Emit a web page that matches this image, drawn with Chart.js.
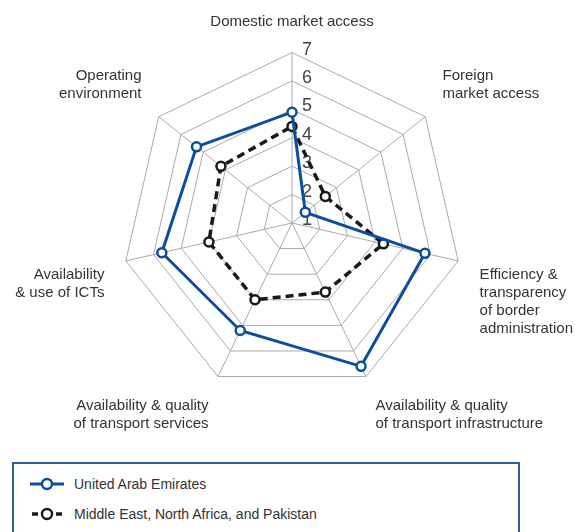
<!DOCTYPE html>
<html>
<head>
<meta charset="utf-8">
<script src="https://cdn.jsdelivr.net/npm/chart.js@4.4.1/dist/chart.umd.min.js"></script>
<style>
  body { margin: 0; background: #fff; font-family: 'Liberation Sans', sans-serif; }
  #wrap { position: relative; width: 575px; height: 532px; overflow: hidden; }
  #chartBox { position: absolute; left: 0; top: 0; width: 575px; height: 460px; }
  #legend { position: absolute; left: 12px; top: 462px; width: 508px; height: 90px;
            border: 2px solid #2b5f9e; box-sizing: border-box; }
  .item { position: absolute; left: 16px; height: 20px; display: flex; align-items: center;
          font-size: 14px; color: #333; }
  .item svg { margin-right: 10px; }
</style>
</head>
<body>
<div id="wrap">
  <div id="chartBox"><canvas id="grafico"></canvas></div>
  <div id="legend"></div>
</div>
<script>
// categorías (ejes del radar)
const categorias = [
  'Domestic market access',
  ['Foreign', 'market access'],
  ['Efficiency &', 'transparency', 'of border', 'administration'],
  ['Availability & quality', 'of transport infrastructure'],
  ['Availability & quality', 'of transport services'],
  ['Availability', '& use of ICTs'],
  ['Operating', 'environment']
];

// series
const nombreUAE = 'United Arab Emirates';
const valoresUAE = [4.9, 1.6, 5.8, 6.6, 5.2, 5.7, 5.3];

const nombreMENAP = 'Middle East, North Africa, and Pakistan';
const valoresMENAP = [4.4, 2.5, 4.3, 3.7, 4.0, 4.0, 4.2];

// marcas del eje radial
const etiquetasEje = ['1', '2', '3', '4', '5', '6', '7'];

const azul = '#0b4f9c';
const negro = '#1a1a1a';

// dibuja los números del eje a la derecha de la línea vertical
const numerosEje = {
  id: 'numerosEje',
  beforeDatasetsDraw(chart) {
    const r = chart.scales.r;
    const ctx = chart.ctx;
    ctx.save();
    ctx.font = '18px "Liberation Sans", sans-serif';
    ctx.fillStyle = '#444';
    ctx.textAlign = 'left';
    ctx.textBaseline = 'alphabetic';
    etiquetasEje.forEach(t => {
      const d = r.getDistanceFromCenterForValue(Number(t));
      ctx.fillText(t, r.xCenter + 10, r.yCenter - d + 2);
    });
    ctx.restore();
  }
};

const grafico = new Chart(document.getElementById('grafico'), {
  type: 'radar',
  data: {
    labels: categorias,
    datasets: [
      {
        label: nombreUAE,
        data: valoresUAE,
        borderColor: azul,
        borderWidth: 3,
        pointRadius: 4.5,
        pointBorderWidth: 2.5,
        pointBackgroundColor: '#fff',
        pointBorderColor: azul,
        fill: false
      },
      {
        label: nombreMENAP,
        data: valoresMENAP,
        borderColor: negro,
        borderWidth: 3.5,
        borderDash: [8, 5],
        pointRadius: 4.5,
        pointBorderWidth: 2.5,
        pointBackgroundColor: '#fff',
        pointBorderColor: negro,
        fill: false
      }
    ]
  },
  options: {
    responsive: true,
    maintainAspectRatio: false,
    animation: false,
    layout: { padding: { top: 4, bottom: 20, left: 14, right: 0 } },
    plugins: { legend: { display: false }, tooltip: { enabled: false } },
    scales: {
      r: {
        min: 1,
        max: 7,
        ticks: { stepSize: 1, display: false },
        grid: { color: '#aaa', lineWidth: 1 },
        angleLines: { color: '#aaa', lineWidth: 1 },
        pointLabels: {
          padding: 22,
          color: '#333',
          font: { family: '"Liberation Sans", sans-serif', size: 15 }
        }
      }
    }
  },
  plugins: [numerosEje]
});

// leyenda en HTML con recuadro
function armarLeyenda() {
  const series = [
    { nombre: nombreUAE, color: azul, guion: false },
    { nombre: nombreMENAP, color: negro, guion: true }
  ];
  const caja = document.getElementById('legend');
  series.forEach((s, i) => {
    const linea = s.guion
      ? `<line x1="2" y1="10" x2="8" y2="10" stroke="${s.color}" stroke-width="3.5"/><line x1="26" y1="10" x2="32" y2="10" stroke="${s.color}" stroke-width="3.5"/>`
      : `<line x1="0" y1="10" x2="34" y2="10" stroke="${s.color}" stroke-width="3"/>`;
    const div = document.createElement('div');
    div.className = 'item';
    div.style.top = (10 + i * 30) + 'px';
    div.innerHTML = `<svg width="34" height="20">${linea}<circle cx="17" cy="10" r="5" fill="#fff" stroke="${s.color}" stroke-width="2.5"/></svg>${s.nombre}`;
    caja.appendChild(div);
  });
}
armarLeyenda();
</script>
</body>
</html>
